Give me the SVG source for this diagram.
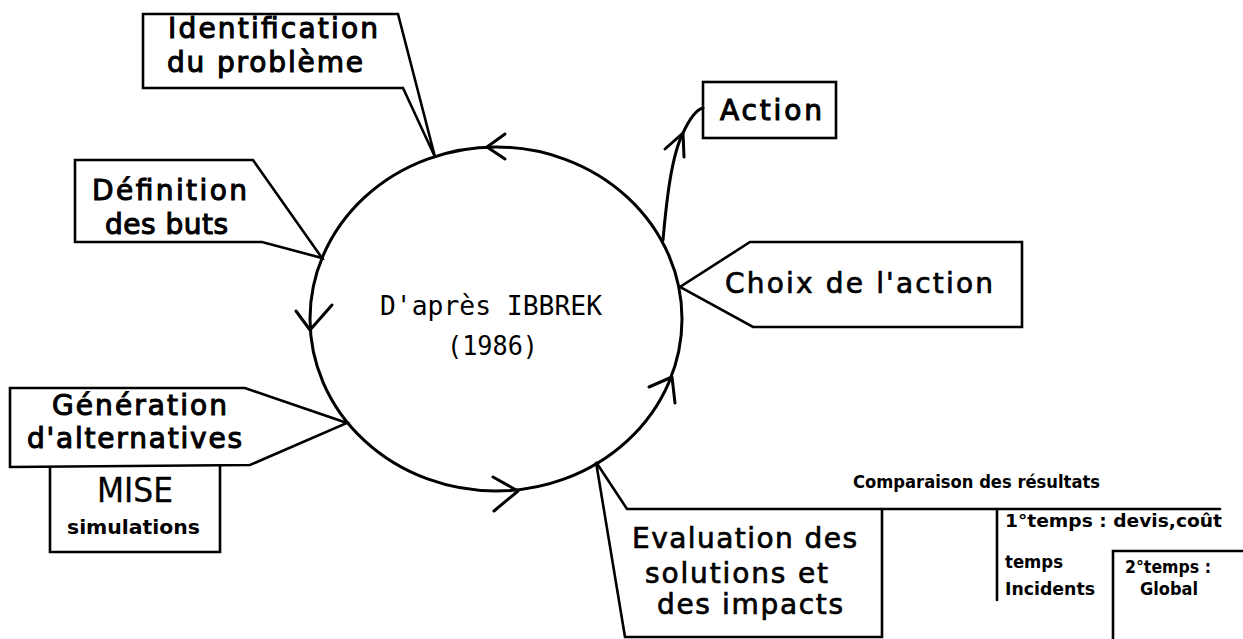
<svg xmlns="http://www.w3.org/2000/svg" width="1243" height="639" viewBox="0 0 1243 639">
<style>
.b{fill:none;stroke:#000;stroke-width:2.6;stroke-linejoin:miter;stroke-linecap:round}
.c{fill:none;stroke:#000;stroke-width:3;stroke-linecap:round;stroke-linejoin:round}
.l{font-family:"DejaVu Sans","Liberation Sans",sans-serif;font-weight:normal;font-size:28px;fill:#000;stroke:#000;stroke-width:1.1}
.m{font-family:"DejaVu Sans","Liberation Sans",sans-serif;font-weight:normal;font-size:28px;fill:#000;stroke:#000;stroke-width:0.7}
.s{font-family:"DejaVu Sans","Liberation Sans",sans-serif;font-weight:bold;font-size:17px;fill:#000}
.t{font-family:"DejaVu Sans Mono","Liberation Mono",monospace;font-size:27px;fill:#000}
</style>
<rect width="1243" height="639" fill="#fff"/>
<g id="cycle">
<ellipse class="c" cx="496" cy="319" rx="186" ry="172"/>
<text class="t" x="380" y="315" textLength="222" lengthAdjust="spacingAndGlyphs">D'après IBBREK</text>
<text class="t" x="447" y="355" textLength="91" lengthAdjust="spacingAndGlyphs">(1986)</text>
</g>
<g id="identification">
<polygon class="b" points="143,14 398,14 435,157 403,88 143,88"/>
<text class="l" x="168" y="38" textLength="210">Identification</text>
<text class="l" x="167" y="72" textLength="196">du problème</text>
</g>
<g id="definition">
<polygon class="b" points="75,160 253,160 322,258 262,242 75,242"/>
<text class="l" x="92" y="200" textLength="155">Définition</text>
<text class="l" x="105" y="234" textLength="123">des buts</text>
</g>
<g id="generation">
<polygon class="b" points="10,388 245,388 347,423 250,465 10,467"/>
<text class="l" x="52" y="415" textLength="175">Génération</text>
<text class="l" x="27" y="448" textLength="215">d'alternatives</text>
</g>
<g id="mise">
<polyline class="b" points="50,467 50,552 220,552 220,466"/>
<text class="m" x="97" y="502" style="font-size:34px;stroke-width:0.3" textLength="76" lengthAdjust="spacingAndGlyphs">MISE</text>
<text class="s" x="67" y="534" style="font-size:19px" textLength="133" lengthAdjust="spacingAndGlyphs">simulations</text>
</g>
<g id="action">
<rect class="b" x="703" y="82" width="133" height="56"/>
<text class="l" x="720" y="120" textLength="102">Action</text>
</g>
<g id="choix">
<polygon class="b" points="1022,242 750,242 680,287 753,327 1022,327"/>
<text class="m" x="725" y="293" textLength="268">Choix de l'action</text>
</g>
<g id="evaluation">
<polyline class="b" points="882,509 627,509 596,462 625,637 882,637 882,509"/>
<text class="m" x="632" y="548" textLength="225">Evaluation des</text>
<text class="m" x="645" y="583" textLength="183">solutions et</text>
<text class="m" x="657" y="614" textLength="186">des impacts</text>
</g>
<g id="comparaison">
<text class="s" x="853" y="488" textLength="247" lengthAdjust="spacingAndGlyphs">Comparaison des résultats</text>
<line class="b" x1="882" y1="509" x2="1220" y2="509"/>
<line class="b" x1="997" y1="509" x2="997" y2="600"/>
<text class="s" x="1005" y="527" textLength="217" lengthAdjust="spacingAndGlyphs">1°temps : devis,coût</text>
<text class="s" x="1005" y="568" textLength="58" lengthAdjust="spacingAndGlyphs">temps</text>
<text class="s" x="1005" y="595" textLength="90" lengthAdjust="spacingAndGlyphs">Incidents</text>
</g>
<g id="global">
<polyline class="b" points="1243,551 1113,551 1113,639"/>
<text class="s" x="1125" y="573" textLength="86" lengthAdjust="spacingAndGlyphs">2°temps :</text>
<text class="s" x="1140" y="595" textLength="58" lengthAdjust="spacingAndGlyphs">Global</text>
</g>
<g id="connectors">
<polyline class="c" points="505,134 487,147 505,159"/>
<polyline class="c" points="296,311 310,330 332,305"/>
<polyline class="c" points="493,477 518,491 494,511"/>
<polyline class="c" points="649,387 672,377 675,403"/>
<path class="c" d="M663,240 C667,195 672,155 683,133 C689,120 695,110 703,108"/>
<polyline class="c" points="665,149 683,133 684,157"/>
</g>
</svg>
